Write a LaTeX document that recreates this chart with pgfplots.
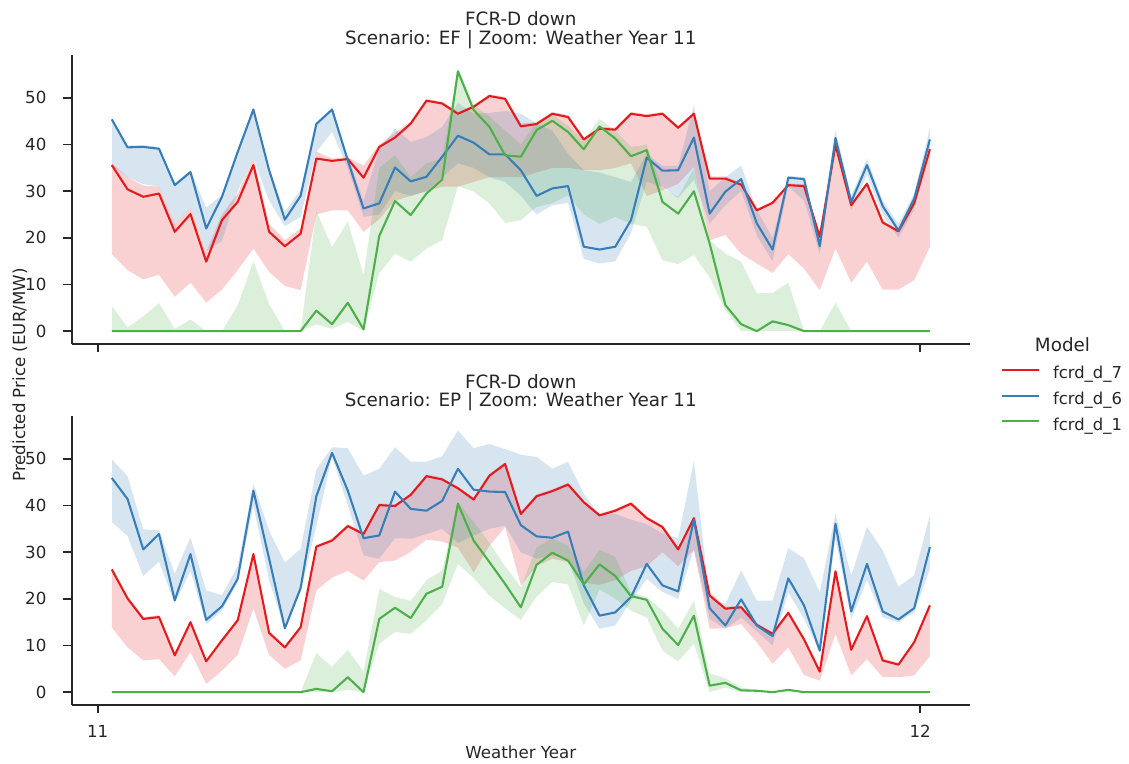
\documentclass[border=0pt]{standalone}
\usepackage{fontspec}
\setmainfont{DejaVu Sans}
\usepackage{pgfplots}
\usepackage{pgfplotstable}
\pgfplotsset{compat=1.18}
\usepgfplotslibrary{fillbetween}
\definecolor{c7}{HTML}{E41A1C}
\definecolor{c6}{HTML}{377EB8}
\definecolor{c1}{HTML}{4DAF4A}
\definecolor{dk}{gray}{0.15}

\pgfplotstableread{
i m7 l7 u7 m6 l6 u6 m1 l1 u1
0 35.6 16.5 36.0 45.4 35.5 45.8 0 0 5.4
1 30.4 13.1 33.0 39.4 33.0 39.8 0 0 0.8
2 28.8 11.1 31.2 39.5 31.5 39.9 0 0 3.2
3 29.5 12.1 31.0 39.1 31.0 39.5 0 0 6.0
4 21.3 7.4 23.0 31.3 23.0 31.7 0 0 0.5
5 25.1 10.4 26.5 34.1 26.5 34.5 0 0 2.5
6 14.9 6.1 17.0 22.0 17.2 26.5 0 0 0
7 23.8 8.9 25.0 28.8 19.3 29.2 0 0 0
8 27.7 13.1 29.5 38.4 30.0 38.8 0 0 5.5
9 35.6 17.7 37.0 47.5 37.0 47.9 0 0 15.0
10 21.3 12.7 23.0 34.5 28.0 34.9 0 0 5.8
11 18.2 9.7 19.5 23.9 22.5 25.6 0 0 0
12 20.9 8.8 22.0 29.0 24.5 30.3 0 0 0
13 37.0 25.0 38.5 44.4 38.4 44.8 4.4 1.5 25.8
14 36.5 25.9 37.0 47.5 42.7 47.9 1.5 0.5 18.0
15 36.9 25.9 37.3 36.6 35.0 37.4 6.1 2.0 23.5
16 32.9 21.3 35.5 26.3 24.5 28.0 0.4 0 12.0
17 39.5 24.0 40.0 27.4 25.0 39.0 20.4 12.4 35.0
18 41.5 28.0 42.5 35.1 30.0 43.4 27.9 16.6 37.7
19 44.5 29.0 45.0 32.1 29.0 40.6 24.9 14.9 33.0
20 49.4 30.0 49.8 33.1 30.0 41.6 29.5 17.7 36.0
21 48.8 31.0 49.2 37.4 33.0 43.8 32.5 19.5 37.0
22 46.6 31.0 47.0 41.9 36.0 48.9 55.7 31.1 56.5
23 48.1 32.0 48.5 40.4 35.0 46.6 47.4 29.9 48.5
24 50.4 33.0 50.8 37.9 33.0 46.8 43.8 27.4 46.0
25 49.8 33.0 50.2 37.9 32.0 47.2 37.7 23.2 43.0
26 43.9 33.0 44.5 34.5 29.0 46.6 37.4 23.8 40.0
27 44.4 34.0 44.8 29.0 25.0 44.5 43.1 26.6 45.0
28 46.6 35.0 47.0 30.6 27.0 43.0 45.1 27.4 46.5
29 45.9 35.0 46.3 31.1 27.5 38.0 42.7 29.1 44.0
30 41.1 34.5 41.5 18.1 15.5 34.5 39.0 25.0 41.0
31 43.4 34.5 43.8 17.5 14.5 34.0 43.9 23.0 45.5
32 43.2 35.0 43.6 18.1 15.0 33.0 41.3 24.5 43.0
33 46.6 36.0 47.0 23.8 21.0 32.0 37.5 23.0 39.5
34 46.1 29.0 46.5 37.2 32.0 38.0 38.8 22.4 40.0
35 46.6 30.2 47.0 34.4 31.0 35.5 27.7 15.2 30.6
36 43.6 31.6 44.0 34.5 28.5 35.5 25.2 14.4 28.8
37 46.6 35.2 47.0 41.5 32.5 48.4 30.0 16.3 34.9
38 32.7 19.5 33.2 25.2 23.0 30.0 18.8 11.6 19.5
39 32.7 20.6 33.2 29.9 27.0 33.0 5.6 4.5 16.6
40 31.4 16.6 31.8 32.6 30.0 35.5 1.5 0 14.9
41 25.9 14.5 26.3 23.1 20.5 26.0 0 0 8.1
42 27.5 12.5 27.9 17.5 15.0 20.0 2.1 0 8.2
43 31.3 16.5 31.7 32.9 31.0 33.3 1.3 0 10.4
44 31.1 13.4 31.5 32.6 28.0 33.0 0 0 0
45 20.2 8.8 20.6 18.2 16.5 20.0 0 0 0
46 39.9 17.7 40.3 41.4 39.0 43.0 0 0 6.1
47 27.0 10.4 27.4 27.7 26.0 29.0 0 0 0
48 31.6 14.9 32.0 35.6 33.5 37.0 0 0 0
49 23.3 8.9 23.7 26.8 25.0 28.0 0 0 0
50 21.4 8.9 21.8 21.6 20.0 23.0 0 0 0
51 27.4 10.9 27.8 28.4 26.0 29.5 0 0 0
52 39.0 18.1 39.4 41.1 39.0 43.5 0 0 0
}\topdata

\pgfplotstableread{
i m7 l7 u7 m6 l6 u6 m1 l1 u1
0 26.3 13.9 26.7 45.9 36.5 49.9 0 0 0
1 20.1 9.6 20.5 41.4 33.5 46.3 0 0 0
2 15.7 6.8 16.1 30.6 24.9 34.9 0 0 0
3 16.1 7.1 16.5 33.9 28.0 34.7 0 0 0
4 7.9 3.4 8.3 19.7 19.0 25.4 0 0 0
5 15.0 8.6 15.4 29.6 26.0 33.2 0 0 0
6 6.6 1.8 7.0 15.5 14.5 21.8 0 0 0
7 11.1 4.6 11.5 18.4 17.5 20.8 0 0 0
8 15.4 8.0 15.8 24.3 23.5 27.0 0 0 0
9 29.6 17.9 30.0 43.2 40.0 44.7 0 0 0
10 12.7 8.0 13.1 28.6 24.0 34.6 0 0 0
11 9.6 5.0 10.0 13.7 13.3 27.8 0 0 0
12 13.9 6.8 14.3 22.3 21.5 30.7 0 0 0
13 31.2 21.8 31.6 42.0 35.6 47.7 0.7 0 8.4
14 32.5 24.6 32.9 51.3 50.5 52.5 0.2 0 5.4
15 35.6 26.0 36.0 43.2 40.0 52.3 3.2 0.5 9.1
16 33.9 23.9 34.3 33.0 29.3 46.4 0 0 4.4
17 40.1 27.9 40.5 33.6 28.6 47.9 15.7 10.4 22.1
18 39.9 28.2 40.3 43.0 33.0 52.5 18.1 12.9 20.4
19 42.3 30.1 42.7 39.3 32.9 49.4 15.9 12.5 19.6
20 46.3 32.7 46.7 38.9 33.9 49.4 21.1 15.4 24.0
21 45.6 32.3 46.0 41.0 35.0 50.6 22.6 18.9 26.1
22 43.7 31.0 44.1 47.9 32.0 56.1 40.4 27.5 40.8
23 41.3 25.7 41.7 43.4 33.6 52.3 32.5 24.5 36.5
24 46.4 31.4 46.8 43.0 35.0 53.2 27.9 20.7 32.0
25 48.9 35.4 49.3 42.9 35.7 52.1 23.2 18.0 27.0
26 38.2 22.9 38.6 35.8 30.0 50.9 18.2 15.5 22.5
27 42.0 27.1 42.4 33.4 28.6 50.4 27.3 20.5 31.0
28 43.1 28.6 43.5 33.1 29.3 47.9 29.9 23.6 33.0
29 44.5 27.9 44.9 34.4 28.6 49.4 28.2 23.1 31.4
30 40.7 23.5 41.1 22.9 19.0 42.5 23.1 14.3 25.8
31 37.9 23.0 38.3 16.4 13.6 38.0 27.4 22.0 30.5
32 38.9 24.0 39.3 17.1 14.3 38.2 24.9 20.0 29.0
33 40.4 26.0 40.8 20.4 19.6 37.0 20.6 17.5 21.4
34 37.3 27.0 37.7 27.5 24.3 36.0 19.8 16.0 20.4
35 35.4 30.0 35.8 22.9 21.5 34.0 13.6 8.9 17.5
36 30.6 27.0 31.0 21.6 20.0 33.0 10.1 6.6 13.6
37 37.3 30.5 37.7 37.0 30.7 49.6 16.4 10.4 19.6
38 20.7 13.6 21.5 18.0 15.7 20.0 1.4 0 4.0
39 17.9 13.7 18.3 14.3 13.6 18.9 2.0 1.0 3.0
40 18.2 14.6 18.6 19.9 16.0 26.1 0.4 0 1.0
41 14.4 10.7 14.8 14.3 13.0 19.6 0.3 0 0.5
42 12.5 6.1 12.9 12.0 10.0 19.6 0 0 0
43 17.0 9.6 17.4 24.4 21.4 30.9 0.5 0 0.5
44 11.3 3.7 11.7 18.6 15.7 28.7 0 0 0
45 4.4 2.5 4.8 8.9 8.6 21.4 0 0 0
46 25.9 12.5 26.3 36.1 32.9 38.2 0 0 0
47 9.1 3.6 9.5 17.3 15.7 25.0 0 0 0
48 16.3 7.1 16.7 27.5 24.0 35.4 0 0 0
49 6.8 3.2 7.2 17.3 16.0 30.4 0 0 0
50 5.9 3.2 6.3 15.6 15.0 22.6 0 0 0
51 10.7 3.6 11.1 18.0 17.1 25.0 0 0 0
52 18.6 7.7 19.0 31.1 26.4 37.9 0 0 0
}\botdata

\newcommand{\tickfont}{\fontsize{12}{14}\selectfont}
\newcommand{\labfont}{\fontsize{12}{14}\selectfont}
\newcommand{\titfont}{\fontsize{13.2}{15}\selectfont}
\newcommand{\legfont}{\fontsize{11.8}{14}\selectfont}

\pgfplotsset{
  panel/.style={
    scale only axis,
    width=646.78pt, height=208.08pt,
    anchor=south west,
    xmin=-2.55, xmax=54.55,
    ymin=-2.75, ymax=59.2,
    axis lines=left,
    axis line style={-, dk, line width=1.25pt},
    tick align=outside,
    major tick length=6pt,
    tick style={dk, line width=1.25pt},
    ytick={0,10,20,30,40,50},
    xtick={-0.897,51.38},
    tick label style={font=\tickfont, text=dk},
    /pgf/number format/assume math mode=true,
    yticklabel style={anchor=east, inner sep=0pt, xshift=-12pt},
    xticklabel style={anchor=base, inner sep=0pt, yshift=-17.3pt},
  },
  band/.style={draw=none, fill opacity=0.2, forget plot},
  mline/.style={line width=1.5pt, line join=round},
}

\begin{document}
\begin{tikzpicture}

\begin{axis}[panel, name=topax, at={(51.62pt,301.68pt)}, xticklabels={}]
  \addplot[draw=none, name path=tu7, forget plot] table[x=i, y=u7] {\topdata};
  \addplot[draw=none, name path=tl7, forget plot] table[x=i, y=l7] {\topdata};
  \addplot[band, fill=c7] fill between[of=tu7 and tl7];
  \addplot[draw=none, name path=tu6, forget plot] table[x=i, y=u6] {\topdata};
  \addplot[draw=none, name path=tl6, forget plot] table[x=i, y=l6] {\topdata};
  \addplot[band, fill=c6] fill between[of=tu6 and tl6];
  \addplot[draw=none, name path=tu1, forget plot] table[x=i, y=u1] {\topdata};
  \addplot[draw=none, name path=tl1, forget plot] table[x=i, y=l1] {\topdata};
  \addplot[band, fill=c1] fill between[of=tu1 and tl1];
  \addplot[mline, c7] table[x=i, y=m7] {\topdata};
  \addplot[mline, c6] table[x=i, y=m6] {\topdata};
  \addplot[mline, c1] table[x=i, y=m1] {\topdata};
\end{axis}

\begin{axis}[panel, name=botax, at={(51.62pt,41.76pt)}, xticklabels={11,12},
  legend style={at={(axis description cs:1.0342,1.0537)}, anchor=west,
    draw=none, fill=none, inner sep=0pt, font=\legfont, text=dk,
    nodes={inner sep=0pt, text height=8.8pt, text depth=3pt},
    row sep=6.6pt,
    /tikz/every odd column/.append style={column sep=9.6pt}},
  legend cell align=left,
  legend image code/.code={\draw[#1, line width=1.5pt] (0pt,3.5pt) -- (26.4pt,3.5pt);}]
  \addplot[draw=none, name path=bu7, forget plot] table[x=i, y=u7] {\botdata};
  \addplot[draw=none, name path=bl7, forget plot] table[x=i, y=l7] {\botdata};
  \addplot[band, fill=c7] fill between[of=bu7 and bl7];
  \addplot[draw=none, name path=bu6, forget plot] table[x=i, y=u6] {\botdata};
  \addplot[draw=none, name path=bl6, forget plot] table[x=i, y=l6] {\botdata};
  \addplot[band, fill=c6] fill between[of=bu6 and bl6];
  \addplot[draw=none, name path=bu1, forget plot] table[x=i, y=u1] {\botdata};
  \addplot[draw=none, name path=bl1, forget plot] table[x=i, y=l1] {\botdata};
  \addplot[band, fill=c1] fill between[of=bu1 and bl1];
  \addplot[mline, c7] table[x=i, y=m7] {\botdata};
  \addlegendentry{fcrd\_d\_7}
  \addplot[mline, c6] table[x=i, y=m6] {\botdata};
  \addlegendentry{fcrd\_d\_6}
  \addplot[mline, c1] table[x=i, y=m1] {\botdata};
  \addlegendentry{fcrd\_d\_1}
\end{axis}

\path (topax.north) ++(0pt,21.1pt) node[anchor=base, font=\titfont, text=dk, inner sep=0pt] {FCR-D down};
\path (topax.north) ++(0pt,7.7pt) node[anchor=base, font=\titfont, text=dk, inner sep=0pt] {Scenario: EF | Zoom: Weather Year 11};
\path (botax.north) ++(0pt,20.1pt) node[anchor=base, font=\titfont, text=dk, inner sep=0pt] {FCR-D down};
\path (botax.north) ++(0pt,6.7pt) node[anchor=base, font=\titfont, text=dk, inner sep=0pt] {Scenario: EP | Zoom: Weather Year 11};
\node[anchor=base, font=\labfont, text=dk, inner sep=0pt] at (375pt,3.4pt) {Weather Year};
\node[rotate=90, anchor=base, font=\labfont, text=dk, inner sep=0pt] at (18pt,279.4pt) {Predicted Price (EUR/MW)};
\node[anchor=base, font=\titfont, text=dk, inner sep=0pt] at (765pt,296.1pt) {Model};
\path (0pt,0pt) rectangle (812.88pt,549.36pt);
\end{tikzpicture}
\end{document}
